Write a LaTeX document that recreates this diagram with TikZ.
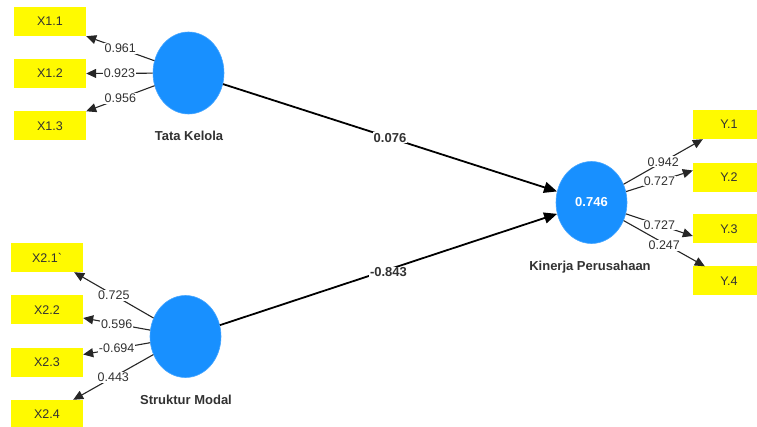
\documentclass[tikz,border=0pt]{standalone}
\usepackage{fontspec}
\setmainfont{Liberation Sans}
\usetikzlibrary{arrows.meta,shapes.geometric}
\definecolor{boxyellow}{RGB}{255,250,0}
\definecolor{lvblue}{RGB}{24,144,255}
\definecolor{txtgray}{RGB}{50,50,50}
\tikzset{
  ind/.style={rectangle, fill=boxyellow, minimum width=72pt, minimum height=29pt, inner sep=0pt,
    font=\fontsize{12.5}{14}\selectfont, text=txtgray},
  lv/.style={ellipse, fill=lvblue, draw=lvblue!80!white, line width=0.6pt, minimum width=71pt, minimum height=82pt, inner sep=0pt,
    font=\bfseries\fontsize{13}{15}\selectfont, text=white},
  lvname/.style={font=\bfseries\fontsize{13}{15}\selectfont, text=txtgray},
  load/.style={draw=black!85, line width=1.1pt, -{Triangle[length=10pt,width=9pt]}},
  path/.style={draw=black, line width=1.8pt, -{Triangle[length=13pt,width=11pt]}},
  lab/.style={fill=white, inner sep=1pt, font=\fontsize{12.5}{14}\selectfont, text=txtgray},
  plab/.style={fill=white, inner sep=1pt, font=\bfseries\fontsize{13}{15}\selectfont, text=txtgray}
}
\begin{document}
\begin{tikzpicture}[x=1pt,y=-1pt]
\clip (0,0) rectangle (757,427);
\fill[white] (0,0) rectangle (757,427);
% indicators
\node[ind] (x11) at (50,21.5) {X1.1};
\node[ind] (x12) at (50,73.5) {X1.2};
\node[ind] (x13) at (50,126) {X1.3};
\node[ind] (x21) at (47,257.5) {X2.1\textasciigrave};
\node[ind] (x22) at (47,310) {X2.2};
\node[ind] (x23) at (47,362.5) {X2.3};
\node[ind] (x24) at (47,414.5) {X2.4};
\node[ind] (y1) at (729,124.5) {Y.1};
\node[ind] (y2) at (729,177.5) {Y.2};
\node[ind] (y3) at (729,229) {Y.3};
\node[ind] (y4) at (729,281) {Y.4};
% latent variables
\node[lv] (tk) at (188.5,73) {};
\node[lv] (sm) at (185.5,336.5) {};
\node[lv] (kp) at (591.5,202.5) {0.746};
\node[lvname] (tkn) at (189,136) {Tata Kelola};
\node[lvname] (smn) at (186,400) {Struktur Modal};
\node[lvname] (kpn) at (590,267) {Kinerja Perusahaan};
% outer loadings
\draw[load] (tk) -- node[lab]{0.961} (x11.south east);
\draw[load] (tk) -- node[lab]{0.923} (x12.east);
\draw[load] (tk) -- node[lab]{0.956} (x13.north east);
\draw[load] (sm) -- node[lab]{0.725} ([xshift=-9pt]x21.south east);
\draw[load] (sm) -- node[lab]{0.596} ([yshift=-8pt]x22.east);
\draw[load] (sm) -- node[lab]{-0.694} ([yshift=8pt]x23.east);
\draw[load] (sm) -- node[lab]{0.443} ([xshift=-10pt]x24.north east);
\draw[load] (kp) -- node[lab]{0.942} ([xshift=10pt]y1.south west);
\draw[load] (kp) -- node[lab]{0.727} ([yshift=7pt]y2.west);
\draw[load] (kp) -- node[lab]{0.727} ([yshift=-7pt]y3.west);
\draw[load] (kp) -- node[lab, yshift=-2pt]{0.247} ([xshift=12pt]y4.north west);
% inner paths
\draw[path] (tk) -- node[plab]{0.076} (kp);
\draw[path] (sm) -- node[plab, yshift=-3pt]{-0.843} (kp);
\end{tikzpicture}
\end{document}
